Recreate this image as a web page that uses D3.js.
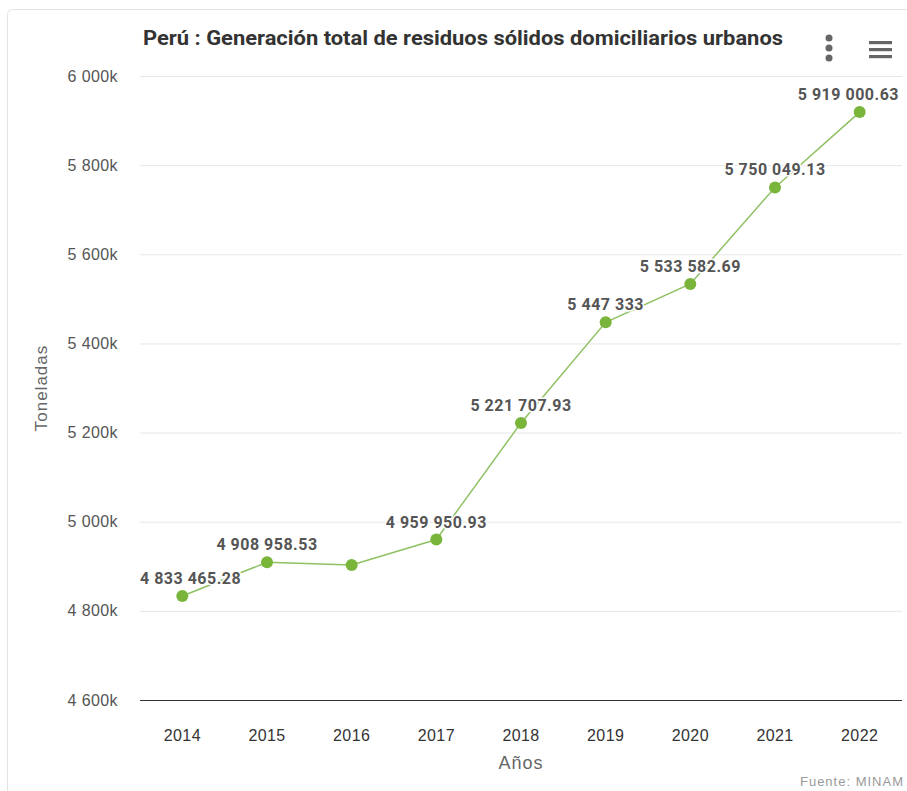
<!DOCTYPE html>
<html>
<head>
<meta charset="utf-8">
<script src="https://cdn.jsdelivr.net/npm/d3@7"></script>
<style>
  body { margin: 0; background: #fff; font-family: Roboto, "Noto Sans", sans-serif; }
</style>
</head>
<body>
<svg id="chart" width="907" height="791"></svg>
<script>
const years = ['2014', '2015', '2016', '2017', '2018', '2019', '2020', '2021', '2022'];
const values = [4833465.28, 4908958.53, 4903100, 4959950.93, 5221707.93, 5447333, 5533582.69, 5750049.13, 5919000.63];
const labels = ['4 833 465.28', '4 908 958.53', '', '4 959 950.93', '5 221 707.93', '5 447 333', '5 533 582.69', '5 750 049.13', '5 919 000.63'];
const yTicks = [4600000, 4800000, 5000000, 5200000, 5400000, 5600000, 5800000, 6000000];

const svg = d3.select('#chart');
const margin = {top: 76, right: 5, bottom: 91, left: 140};
const width = 907, height = 791;
const sans = '"Liberation Sans", Arial, sans-serif';

// frame
svg.append('rect')
  .attr('x', 7.5).attr('y', 9.5)
  .attr('width', 920).attr('height', 800)
  .attr('rx', 5)
  .attr('fill', 'none')
  .attr('stroke', '#e3e3e3');

const x = d3.scaleBand()
  .domain(years)
  .range([margin.left, width - margin.right]);

const y = d3.scaleLinear()
  .domain([4600000, 6000000])
  .range([height - margin.bottom, margin.top]);

const fmtK = d => d3.format(',')(d / 1000).replace(/,/g, ' ') + 'k';

// grid
svg.append('g')
  .selectAll('line')
  .data(yTicks)
  .join('line')
    .attr('x1', margin.left).attr('x2', width - margin.right)
    .attr('y1', d => y(d) + 0.5).attr('y2', d => y(d) + 0.5)
    .attr('stroke', d => d === 4600000 ? '#333' : '#e6e6e6')
    .attr('stroke-width', 1);

// y axis
const yAxis = svg.append('g')
  .attr('transform', `translate(${margin.left},0)`)
  .call(d3.axisLeft(y).tickValues(yTicks).tickSize(0).tickPadding(22).tickFormat(fmtK));
yAxis.select('.domain').remove();
yAxis.selectAll('text')
  .attr('fill', '#555')
  .style('font-size', '16px')
  .style('letter-spacing', '0.4px')
  .style('font-family', sans);

// x axis
const xAxis = svg.append('g')
  .attr('transform', `translate(0,${height - margin.bottom})`)
  .call(d3.axisBottom(x).tickSize(0).tickPadding(30));
xAxis.select('.domain').remove();
xAxis.selectAll('text')
  .attr('fill', '#333')
  .style('font-size', '16px')
  .style('letter-spacing', '0.4px')
  .style('font-family', sans);

// axis titles
svg.append('text')
  .attr('transform', `translate(47,${(margin.top + height - margin.bottom) / 2}) rotate(-90)`)
  .attr('text-anchor', 'middle')
  .attr('fill', '#666')
  .style('font-family', sans)
  .style('font-size', '17px')
  .style('letter-spacing', '1px')
  .text('Toneladas');

svg.append('text')
  .attr('x', 521)
  .attr('y', 769)
  .attr('text-anchor', 'middle')
  .attr('fill', '#666')
  .style('font-family', sans)
  .style('font-size', '18px')
  .style('letter-spacing', '1px')
  .text('Años');

svg.append('text')
  .attr('x', 904)
  .attr('y', 786)
  .attr('text-anchor', 'end')
  .attr('fill', '#999')
  .style('font-family', sans)
  .style('font-size', '13px')
  .style('letter-spacing', '1px')
  .text('Fuente: MINAM');

// title
svg.append('text')
  .attr('x', 463)
  .attr('y', 45)
  .attr('text-anchor', 'middle')
  .attr('fill', '#333')
  .attr('textLength', 640)
  .attr('lengthAdjust', 'spacingAndGlyphs')
  .style('font-size', '20px')
  .style('font-weight', 'bold')
  .text('Perú : Generación total de residuos sólidos domiciliarios urbanos');

// menu icons
const dots = svg.append('g').attr('fill', '#666');
[38, 48, 58].forEach(cy => dots.append('circle').attr('cx', 829).attr('cy', cy).attr('r', 3.5));
const burger = svg.append('g').attr('fill', '#666');
[41, 48, 55].forEach(yy => burger.append('rect').attr('x', 869).attr('y', yy).attr('width', 23).attr('height', 3.2));

// line
const cx = d => x(d) + x.bandwidth() / 2;
const data = years.map((yr, i) => ({year: yr, value: values[i], label: labels[i]}));

svg.append('path')
  .datum(data)
  .attr('fill', 'none')
  .attr('stroke', '#8fc163')
  .attr('stroke-width', 1.5)
  .attr('d', d3.line().x(d => cx(d.year)).y(d => y(d.value)));

svg.append('g')
  .selectAll('circle')
  .data(data)
  .join('circle')
    .attr('cx', d => cx(d.year))
    .attr('cy', d => y(d.value))
    .attr('r', 6)
    .attr('fill', '#78b53a');

// data labels, kept inside the plot area
svg.append('g')
  .selectAll('text')
  .data(data.filter(d => d.label))
  .join('text')
    .attr('y', d => y(d.value) - 12)
    .attr('text-anchor', 'start')
    .attr('fill', '#555')
    .attr('stroke', '#fff')
    .attr('stroke-width', 3)
    .attr('paint-order', 'stroke')
    .attr('stroke-linejoin', 'round')
    .style('font-size', '16px')
    .style('font-weight', 'bold')
    .style('letter-spacing', '0.5px')
    .text(d => d.label)
    .attr('x', function (d) {
      const w = this.getComputedTextLength();
      let left = cx(d.year) - w / 2;
      left = Math.max(margin.left, Math.min(left, 899 - w));
      return left;
    });
</script>
</body>
</html>
